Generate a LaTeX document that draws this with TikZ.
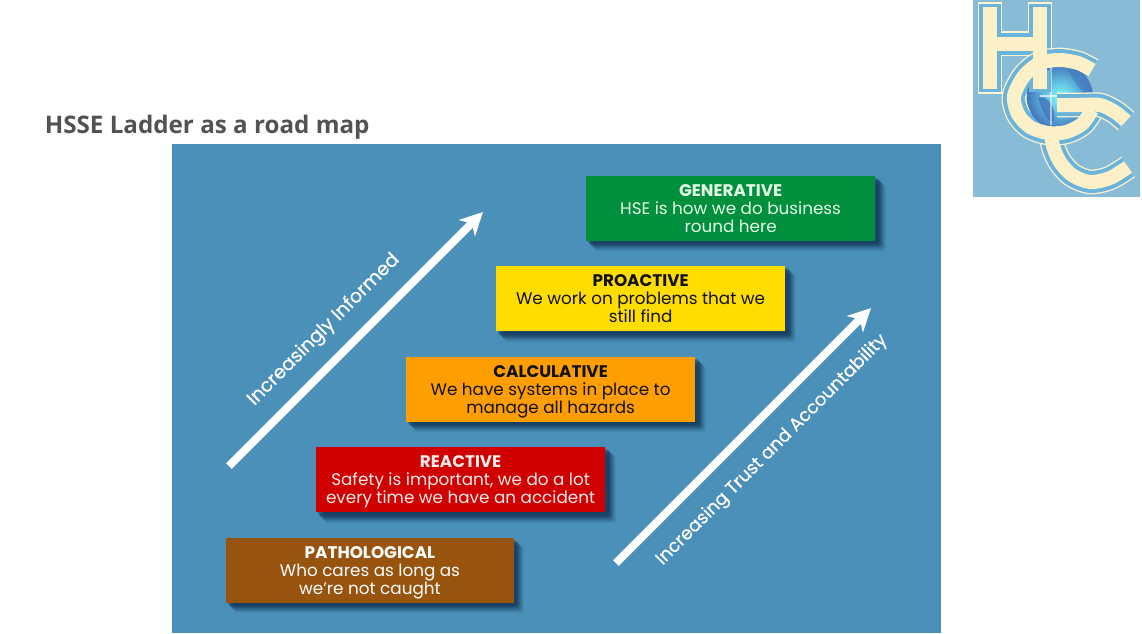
\documentclass[tikz,border=0pt]{standalone}
\usepackage{fontspec}
\setmainfont{Poppins}
\newfontfamily\titlefont{Open Sans}
\newfontfamily\slantfont[FakeBold=0.4]{Poppins}
\usetikzlibrary{arrows.meta}
\definecolor{panel}{HTML}{4A90B8}
\definecolor{shadowc}{HTML}{0F2F50}
\definecolor{logobg}{HTML}{88BBD6}
\definecolor{logoband}{HTML}{6AB4DC}
\definecolor{logocream}{HTML}{FBF0C8}
\definecolor{globedark}{HTML}{4276BC}
\definecolor{cgreen}{HTML}{008F3D}
\definecolor{cyellow}{HTML}{FFDD00}
\definecolor{corange}{HTML}{FF9E00}
\definecolor{cred}{HTML}{D00000}
\definecolor{cbrown}{HTML}{98540F}
\definecolor{ink}{HTML}{111111}
\newcommand{\lowerhead}{\rule{0pt}{12.5pt}}
\tikzset{
  x=0.75pt,y=-0.75pt,
  rung/.style={minimum width=216.5pt,minimum height=48.5pt,inner sep=0pt,align=center,anchor=north west,
     font=\fontsize{12.6}{13.5}\selectfont},
  bigarrow/.style={draw=white,line width=6pt,-{Stealth[length=17pt,width=17pt,inset=5pt]}},
  slant/.style={text=white,rotate=45,inner sep=0pt},
  olay/.style={line width=18.5pt,draw=logocream!85!white,line join=round,line cap=butt},
  blay/.style={line width=16.5pt,draw=logoband,line join=round,line cap=butt},
  clay/.style={line width=10.5pt,draw=logocream,line join=round,line cap=butt},
}
\newcommand{\softshadow}[4]{% x1 y1 x2 y2
  \foreach \d/\o in {11/0.06,10/0.08,9/0.10,8/0.14,7/0.18,6/0.22,5/0.26,4/0.3}{
    \fill[shadowc,opacity=\o,rounded corners=2pt] (#1+\d-2,#2+\d-2) rectangle (#3+\d,#4+\d);
  }
}
\begin{document}
\begin{tikzpicture}
\useasboundingbox (0,0) rectangle (1142,633);
\fill[white] (0,0) rectangle (1142,633);
% title
\node[anchor=base west,inner sep=0pt,text=black!68,font=\titlefont\bfseries\fontsize{18.15}{22}\selectfont] (title) at (44.5,133) {HSSE Ladder as a road map};
% panel
\fill[panel] (172,144) rectangle (941,633);
% shadows
\softshadow{586}{176}{875}{240}
\softshadow{496}{266}{785}{331}
\softshadow{406}{357}{695}{421}
\softshadow{316}{447}{605}{512}
\softshadow{226}{538}{513}{602}
% boxes
\node[rung,fill=cgreen,text=white!90!green] (gen) at (586,176) {\textbf{GENERATIVE}\\HSE is how we do business\\round here};
\node[rung,fill=cyellow,text=ink] (pro) at (496,266) {\textbf{PROACTIVE}\\We work on problems that we\\still find};
\node[rung,fill=corange,text=ink] (cal) at (406,357) {\lowerhead\textbf{CALCULATIVE}\\We have systems in place to\\manage all hazards};
\node[rung,fill=cred,text=white!92!red] (rea) at (316,447) {\lowerhead\textbf{REACTIVE}\\Safety is important, we do a lot\\every time we have an accident};
\node[rung,fill=cbrown,text=white,minimum width=215.5pt] (pat) at (226,538) {\lowerhead\textbf{PATHOLOGICAL}\\Who cares as long as\\we're not caught};
% arrows
\coordinate (a1s) at (229,466);
\coordinate (a1e) at (483,212);
\coordinate (a2s) at (616,563);
\coordinate (a2e) at (871,308);
\draw[bigarrow] (a1s) -- (a1e);
\draw[bigarrow] (a2s) -- (a2e);
\node[slant,font=\slantfont\fontsize{14.2}{16}\selectfont] (inf) at (324,330) {Increasingly Informed};
\node[slant,font=\slantfont\fontsize{13.5}{16}\selectfont] (tru) at (772,450) {Increasing Trust and Accountability};
% logo
\fill[logobg] (972.5,0) rectangle (1140,197);
\def\letH{(990,2) -- (990,94) (1040,2) -- (1040,94) (990,43.5) -- (1040,43.5)}
\def\letC{plot[smooth] coordinates {(1051,128) (1053,146) (1060,162) (1072,175) (1090,182) (1110,178) (1128,167)}}
\def\letG{plot[smooth] coordinates {(1092,70) (1078,63) (1060,60) (1040,63) (1024,76) (1014,96) (1018,114) (1030,127) (1048,133) (1066,132) (1082,124) (1092,110)}}
\def\letT{plot[smooth] coordinates {(1057,105) (1080,105) (1100,105) (1115,112) (1126,121)}}
\draw[olay] \letH;
\draw[blay] (990,4) -- (990,92) (1040,4) -- (1040,92) (990,43.5) -- (1040,43.5);
\draw[olay] \letC;
\draw[blay] \letC;
\draw[olay] \letG;
\draw[blay] \letG;
\shade[inner color=white!50!cyan,middle color=logoband,outer color=globedark] (1060,97) circle (33);
\fill[globedark,opacity=.8] (1038,98) .. controls (1048,94) and (1056,108) .. (1054,120) .. controls (1050,126) and (1043,114) .. cycle;
\fill[globedark,opacity=.55] (1068,70) .. controls (1080,72) and (1090,85) .. (1093,100) .. controls (1085,95) and (1075,85) .. cycle;
\fill[white,opacity=.65] (1040,94.5) rectangle (1093,96.5);
\fill[white,opacity=.55] (1050,66) rectangle (1052,125);
\draw[blay] (1040,70) -- (1040,92);
\draw[olay] \letT;
\draw[blay] \letT;
\draw[clay] \letC;
\draw[clay] \letG;
\draw[clay] \letT;
\draw[clay] (990,7) -- (990,89) (1040,7) -- (1040,89) (990,43.5) -- (1040,43.5);
\end{tikzpicture}
\end{document}
